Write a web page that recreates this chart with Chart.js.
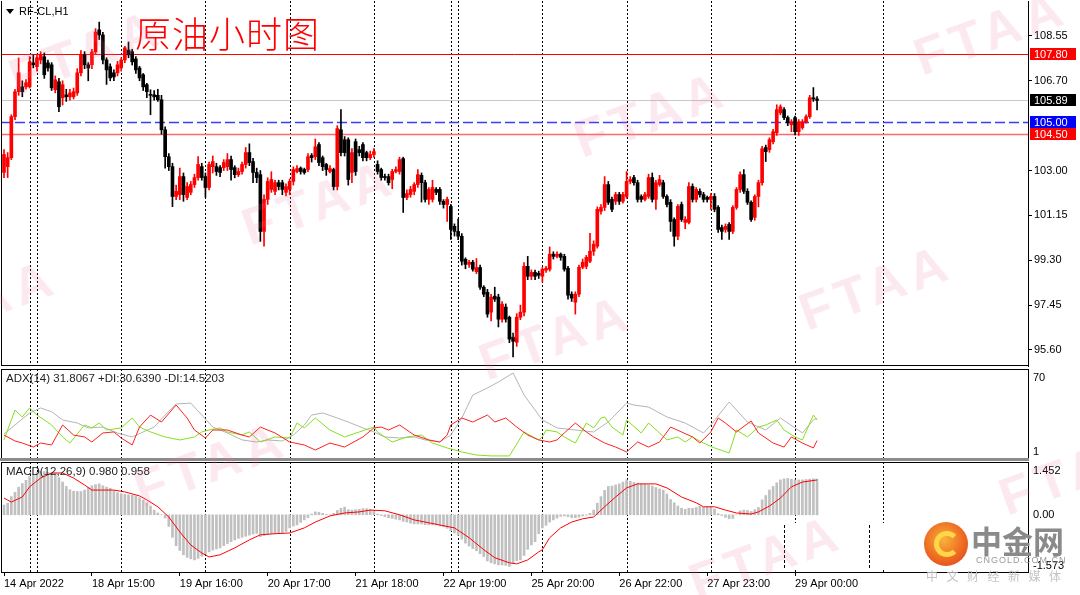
<!DOCTYPE html>
<html><head><meta charset="utf-8">
<script src="https://cdn.jsdelivr.net/npm/chart.js@4.4.1/dist/chart.umd.min.js"></script>
<style>
html,body{margin:0;padding:0;background:#fff;width:1080px;height:595px;overflow:hidden;font-family:"Liberation Sans",Arial,sans-serif;}
canvas{position:absolute;left:0;}
#c1{top:0}#c2{top:367px}#c3{top:460px}
.t{position:absolute;font-size:11px;color:#000;white-space:nowrap;line-height:11px;}
.wm{position:absolute;width:170px;height:56px;line-height:56px;text-align:center;font:bold 52px "Liberation Sans",sans-serif;color:rgba(236,120,160,0.16);transform:rotate(-20deg);letter-spacing:6px;pointer-events:none;}
</style></head><body>
<canvas id="c1" width="1080" height="367"></canvas>
<canvas id="c2" width="1080" height="93"></canvas>
<canvas id="c3" width="1080" height="135"></canvas>
<div style="position:absolute;left:0;top:458px;width:1029px;height:3px;background:#8c8c8c"></div>
<div style="position:absolute;left:760px;top:523px;width:267px;height:47px;background:#fff"></div>
<div style="position:absolute;left:784px;top:525px;height:43px;border-left:1px dashed #000"></div>
<div style="position:absolute;left:869px;top:525px;height:43px;border-left:1px dashed #000"></div>
<div style="position:absolute;left:6px;top:9px;width:0;height:0;border-left:4px solid transparent;border-right:4px solid transparent;border-top:5px solid #000"></div>
<div class="t" style="left:19px;top:6px">RF-CL,H1</div>
<div style="position:absolute;left:135px;top:14px;font:300 36px 'Noto Sans CJK SC',sans-serif;line-height:36px;color:#ff0000;letter-spacing:1px;white-space:nowrap">原油小时图</div>
<div class="t" style="left:6px;top:373px;color:#222;font-size:11.5px">ADX(14) 31.8067 +DI:30.6390 -DI:14.5203</div>
<div class="t" style="left:6px;top:466px;color:#222;font-size:11.5px">MACD(12,26,9) 0.980 0.958</div>
<div style="position:absolute;left:924px;top:522px;width:44px;height:44px;border-radius:50%;background:radial-gradient(circle at 45% 40%,#f7b33a 0%,#ee6a22 55%,#d8391a 100%)"></div>
<div style="position:absolute;left:934px;top:531px;width:16px;height:16px;border-radius:50%;border:5px solid #ffd54a;border-right-color:transparent"></div>
<div style="position:absolute;left:971px;top:523px;font:bold 31px 'Noto Sans CJK SC',sans-serif;line-height:34px;color:#8a8a8a;white-space:nowrap">中金网</div>
<div style="position:absolute;left:976px;top:556px;font:9px 'Liberation Sans',sans-serif;line-height:9px;color:#9a9a9a;letter-spacing:1px;white-space:nowrap">CNGOLD.COM.CN</div>
<div style="position:absolute;left:926px;top:570px;font:12px 'Noto Sans CJK SC',sans-serif;line-height:12px;color:#c4c4c4;letter-spacing:8.5px;white-space:nowrap">中文财经新媒体</div>
<div id="wms"></div>
<script>
// ---------- data ----------
const opens=[
102.92,103.16,103.53,105.22,106.25,106.45,106.45,106.45,107.44,107.28,
107.56,107.69,107.44,107.36,106.33,106.66,106.00,106.12,106.04,106.04,
106.20,107.03,107.77,107.36,107.36,107.89,108.80,108.59,107.56,107.28,
107.03,107.03,107.23,107.56,107.97,107.90,107.60,107.23,106.95,106.54,
106.14,106.12,106.10,105.92,104.68,103.57,103.16,101.93,102.01,102.75,
101.89,102.10,102.42,102.71,103.16,102.75,102.30,103.16,103.16,103.12,
103.12,103.16,103.45,103.12,102.83,102.96,103.25,103.74,103.37,102.92,
102.83,100.49,101.81,102.22,102.14,102.50,102.50,102.10,102.22,102.55,
102.96,103.10,103.04,103.04,103.62,103.57,104.07,103.53,103.25,102.96,
103.04,102.34,104.68,104.27,104.27,102.92,104.19,103.86,104.07,103.74,
103.53,103.66,103.25,103.04,102.75,102.75,102.63,102.96,102.96,103.49,
101.89,102.01,102.14,102.42,102.80,102.50,101.81,101.81,102.22,102.22,
101.73,101.60,101.52,100.70,100.49,100.29,99.34,99.13,99.22,98.83,
99.00,98.19,97.98,97.16,97.82,97.78,96.87,97.37,96.95,96.13,
95.92,96.95,97.16,99.05,98.64,98.80,98.76,98.64,98.89,98.93,
99.55,99.46,99.55,99.46,98.97,97.90,97.57,97.90,99.01,99.05,
99.26,99.67,99.88,101.32,101.48,102.42,101.81,101.73,102.01,101.73,
101.93,102.55,102.71,102.50,101.93,101.81,101.93,102.71,101.81,102.42,
102.50,101.93,101.69,100.98,100.29,101.60,100.86,100.86,102.34,101.81,
102.14,102.01,101.89,101.81,101.93,101.48,100.65,100.57,100.78,100.49,
101.48,102.22,102.83,102.14,101.69,101.07,101.93,102.50,103.95,103.86,
104.19,104.56,105.38,105.51,105.18,104.89,105.18,104.60,104.77,105.01,
105.22,106.00,105.95];
const highs=[
103.86,103.74,105.30,106.35,107.64,106.70,106.75,107.70,107.77,107.80,
107.90,107.85,107.55,107.45,106.90,106.80,106.70,106.35,106.35,106.40,
107.20,107.95,107.90,107.45,108.00,108.85,109.12,108.70,107.65,107.40,
107.15,107.50,107.65,108.12,108.30,108.00,107.70,107.30,107.00,106.60,
106.33,106.30,106.35,106.10,104.80,103.70,103.30,102.40,103.10,102.90,
102.50,102.55,102.85,103.58,103.30,102.90,103.35,103.60,103.30,103.20,
103.45,103.70,103.60,103.20,103.10,103.35,103.95,104.10,103.50,103.10,
103.00,102.00,102.70,102.95,102.60,102.60,102.60,102.45,102.65,103.15,
103.20,103.15,103.10,103.70,103.70,104.30,104.15,103.60,103.30,103.20,
103.10,104.85,105.51,104.40,104.35,103.90,104.30,104.00,104.15,103.80,
103.80,103.90,103.40,103.10,102.85,102.85,103.05,103.15,103.55,103.55,
102.20,102.35,102.50,103.04,102.90,102.60,102.30,102.60,102.30,102.30,
101.80,101.90,101.60,100.80,101.00,100.40,99.40,99.30,99.30,99.37,
99.10,98.25,98.10,97.90,98.19,97.90,97.60,97.50,97.00,96.30,
97.10,97.45,99.20,99.46,98.90,98.90,98.85,99.00,99.05,99.85,
99.65,99.65,99.60,99.55,99.05,98.00,98.00,99.10,99.35,99.50,
100.41,100.10,101.50,101.60,102.75,102.55,101.90,102.10,102.10,102.10,
102.96,102.75,102.80,102.60,102.00,102.10,102.85,102.90,102.60,102.80,
102.60,102.00,101.80,101.05,101.60,101.70,101.10,102.50,102.45,102.30,
102.25,102.10,101.95,102.05,102.05,101.55,100.75,100.80,100.85,101.55,
102.30,102.95,103.04,102.25,101.75,102.00,102.60,104.00,104.05,104.35,
104.70,105.71,105.71,105.60,105.25,105.10,105.25,105.10,105.10,105.30,
106.10,106.42,106.05];
const lows=[
102.71,102.71,103.45,105.10,106.10,106.04,106.35,106.40,107.23,107.10,
107.40,106.80,107.10,106.30,106.20,105.43,105.70,105.85,105.90,105.95,
106.10,106.90,107.20,106.70,107.20,107.80,108.40,107.40,106.55,106.70,
106.70,106.90,107.10,107.45,107.65,107.35,107.00,106.70,106.30,106.00,
105.30,105.90,105.85,104.50,103.10,103.00,101.51,101.80,101.80,101.73,
101.80,102.00,102.30,102.60,102.60,101.90,102.20,102.90,102.80,102.75,
103.00,103.00,102.60,102.70,102.75,102.85,103.10,103.20,102.50,102.50,
100.08,99.88,101.60,102.10,102.00,102.20,102.00,101.95,102.00,102.40,
102.90,102.85,102.85,102.95,103.35,103.45,103.20,103.00,102.80,102.90,
102.20,102.20,103.60,103.60,102.40,102.50,102.80,103.60,103.40,103.40,
103.45,103.55,102.85,102.60,102.60,102.40,102.25,102.90,102.85,101.27,
101.80,101.90,102.00,102.30,101.70,101.70,101.60,101.70,102.00,101.60,
101.45,100.90,100.16,100.30,100.15,99.10,98.95,99.00,98.85,98.75,
98.10,97.80,96.95,96.80,97.60,96.55,96.75,96.75,95.90,95.31,
95.75,96.85,97.00,98.50,98.50,98.50,98.55,98.40,98.80,98.85,
99.35,99.40,99.30,98.85,97.70,97.60,97.08,97.80,98.95,98.95,
99.20,99.50,99.80,101.20,101.35,101.60,101.30,101.60,101.60,101.65,
101.85,102.45,102.40,101.70,101.70,101.75,101.85,101.70,101.40,102.35,
101.85,101.50,100.49,99.88,100.15,100.90,100.60,100.80,101.70,101.70,
101.90,101.70,101.70,101.40,101.30,100.45,100.16,100.45,100.16,100.40,
101.40,102.10,102.05,101.60,100.90,100.95,101.50,102.40,103.37,103.75,
104.10,104.45,105.30,105.10,104.85,104.60,104.47,104.45,104.70,104.95,
105.15,105.85,105.50];
const closes=[
103.66,103.53,105.22,106.25,107.03,106.25,106.62,107.48,107.36,107.65,
107.77,106.95,107.23,106.41,106.74,105.63,106.54,106.04,106.20,106.25,
107.03,107.77,107.36,107.23,107.89,108.71,108.59,107.56,107.15,106.82,
106.86,107.36,107.56,108.06,107.77,107.48,107.15,106.82,106.45,106.25,
106.10,106.04,105.92,104.68,103.57,103.16,101.93,102.14,102.75,102.01,
102.34,102.42,102.71,103.25,102.71,102.30,103.25,103.37,102.96,102.92,
103.33,103.45,103.04,102.83,102.96,103.25,103.74,103.33,102.92,102.71,
100.49,101.81,102.55,102.63,102.50,102.34,102.22,102.34,102.55,103.04,
103.08,102.96,102.92,103.57,103.53,103.98,103.33,103.16,103.04,103.08,
102.34,104.73,103.74,103.74,102.63,103.74,102.96,103.74,103.53,103.53,
103.66,103.78,102.96,102.71,102.71,102.50,102.96,103.04,103.45,101.89,
102.05,102.22,102.42,102.83,102.50,101.81,102.22,102.30,102.10,101.73,
101.60,101.81,100.57,100.49,100.29,99.26,99.13,99.22,98.93,99.00,
98.19,97.90,97.08,97.78,97.70,96.87,97.49,96.87,96.05,95.96,
96.95,97.16,99.05,98.64,98.80,98.64,98.68,98.93,98.97,99.55,
99.46,99.55,99.42,98.93,97.86,97.74,97.90,99.01,99.22,99.42,
99.67,99.96,101.40,101.48,102.42,101.69,101.40,102.01,101.73,102.01,
102.55,102.63,102.50,101.81,101.81,102.01,102.71,101.81,102.50,102.63,
101.93,101.60,100.90,100.29,101.52,100.98,100.98,102.34,101.81,102.22,
102.01,101.81,101.81,101.93,101.40,100.57,100.49,100.70,100.49,101.48,
102.22,102.83,102.14,101.69,100.98,101.93,102.50,103.90,103.78,104.27,
104.60,105.51,105.63,105.18,104.97,105.01,104.60,105.01,105.01,105.22,
106.00,105.95,105.89];
const macdHist=[
0.27,0.32,0.50,0.62,0.76,0.86,0.95,1.05,1.11,1.16,
1.19,1.19,1.17,1.15,1.14,1.02,0.90,0.78,0.69,0.65,
0.64,0.64,0.68,0.75,0.80,0.83,0.85,0.80,0.76,0.73,
0.66,0.61,0.58,0.56,0.55,0.54,0.52,0.47,0.40,0.33,
0.24,0.13,0.05,0.00,-0.09,-0.32,-0.62,-0.85,-0.98,-1.10,
-1.17,-1.21,-1.24,-1.20,-1.14,-1.08,-1.02,-0.97,-0.94,-0.91,
-0.85,-0.79,-0.74,-0.69,-0.65,-0.62,-0.59,-0.56,-0.53,-0.51,
-0.60,-0.57,-0.54,-0.52,-0.51,-0.51,-0.50,-0.46,-0.36,-0.31,
-0.28,-0.21,-0.14,-0.08,0.02,0.08,0.07,0.04,0.01,0.00,
0.04,0.12,0.18,0.21,0.14,0.13,0.14,0.15,0.17,0.17,
0.15,0.10,0.02,-0.02,-0.05,-0.08,-0.10,-0.12,-0.14,-0.18,
-0.20,-0.23,-0.25,-0.25,-0.25,-0.27,-0.28,-0.28,-0.28,-0.31,
-0.33,-0.37,-0.44,-0.50,-0.56,-0.67,-0.78,-0.86,-0.93,-0.99,
-1.07,-1.15,-1.27,-1.32,-1.35,-1.38,-1.38,-1.39,-1.42,-1.34,
-1.26,-1.24,-1.12,-0.95,-0.83,-0.74,-0.52,-0.36,-0.29,-0.20,
-0.14,-0.09,-0.04,-0.03,-0.05,-0.08,-0.08,-0.06,-0.03,-0.01,
0.04,0.13,0.32,0.50,0.67,0.78,0.79,0.82,0.85,0.90,
0.96,0.92,0.89,0.87,0.85,0.84,0.82,0.79,0.75,0.71,
0.68,0.57,0.42,0.33,0.24,0.18,0.15,0.18,0.18,0.20,
0.23,0.21,0.22,0.23,0.16,0.03,-0.02,-0.07,-0.11,-0.10,
0.00,0.11,0.13,0.12,0.09,0.14,0.20,0.41,0.53,0.68,
0.78,0.88,0.96,0.99,1.00,0.98,0.96,0.96,0.96,0.97,
0.98,0.99,0.98];
const sigIdx=[0,2,5,7,10,13,16,19,22,24,27,30,33,37,39,42,45,48,51,54,56,59,63,67,70,74,78,82,85,89,93,97,100,104,108,112,116,119,123,127,131,134,138,140,143,146,147,149,152,155,158,161,164,167,170,173,178,181,185,189,191,194,197,200,204,206,209,212,215,218,222];
const sigVal=[0.46,0.35,0.49,0.77,1.01,1.15,1.15,1.01,0.82,0.68,0.68,0.68,0.63,0.52,0.41,0.22,-0.06,-0.47,-0.83,-1.05,-1.16,-1.10,-0.91,-0.69,-0.55,-0.52,-0.50,-0.36,-0.20,-0.03,0.05,0.08,0.13,0.11,0.00,-0.14,-0.22,-0.28,-0.36,-0.63,-0.96,-1.18,-1.32,-1.35,-1.24,-1.02,-0.96,-0.63,-0.36,-0.20,-0.11,-0.06,0.22,0.49,0.74,0.85,0.85,0.74,0.49,0.33,0.22,0.22,0.13,0.05,0.02,0.08,0.24,0.46,0.77,0.90,0.958];
const adxIdx=[0,7,10,13,16,20,23,27,31,35,38,41,44,47,51,54,57,61,65,69,72,76,79,82,84,87,91,94,98,101,104,108,112,115,119,122,125,128,132,135,139,142,146,147,151,156,161,165,170,172,176,181,186,191,193,198,203,208,212,216,218,221,222];
const adxVal=[19.6,35.9,39.8,36.9,30.5,28.1,24.3,25.0,20.4,17.3,21.2,25.0,34.3,42.9,43.6,34.3,25.0,20.4,15.0,13.4,15.0,14.2,18.8,26.6,34.3,35.9,32.0,28.9,24.3,21.2,17.3,16.5,17.3,15.0,13.4,18.8,32.0,49.8,55.3,59.9,66.9,49.8,34.3,30.5,24.3,22.7,21.2,28.9,43.6,42.1,40.5,32.8,28.1,20.4,26.6,44.4,28.9,22.7,32.0,24.3,20.4,30.5,31.8];
const pdiIdx=[0,3,5,7,9,11,13,16,18,22,24,26,28,32,35,37,40,44,48,52,54,56,59,61,65,67,70,74,78,80,82,85,89,93,97,101,102,106,110,114,117,121,125,129,133,138,142,146,147,148,151,153,156,159,161,163,164,166,169,170,174,176,179,181,184,186,188,191,194,198,200,203,206,208,211,213,216,218,221,222];
const pdiVal=[15.0,38.2,32.8,39.8,34.3,30.5,26.6,17.3,12.6,26.6,24.3,28.1,22.7,24.3,32.0,25.0,21.2,17.3,15.0,17.3,21.2,22.7,24.3,21.2,18.8,21.2,13.4,17.3,16.5,28.1,24.3,32.0,22.7,17.3,21.2,25.0,21.2,13.4,17.3,18.8,12.6,8.8,5.7,3.3,2.6,2.6,21.2,15.0,17.3,22.7,21.2,17.3,12.6,28.1,24.3,32.0,32.8,25.0,18.8,30.5,20.4,28.1,20.4,15.0,17.3,13.4,17.3,12.6,8.8,4.9,22.7,17.3,25.0,26.6,30.5,22.7,17.3,15.0,34.3,30.6];
const mdiIdx=[0,3,5,8,10,13,16,19,22,24,27,30,32,35,37,40,43,47,50,52,55,57,61,65,67,70,74,78,82,85,89,93,98,101,103,105,108,112,116,119,121,122,125,128,132,134,137,140,143,146,149,151,153,156,159,161,164,167,170,173,176,179,182,185,188,190,193,195,197,200,204,206,210,213,215,218,221,222];
const mdiVal=[18.8,14.2,12.6,9.5,12.6,11.1,26.6,18.8,17.3,13.4,20.4,21.2,16.5,11.1,25.0,34.3,28.9,42.1,32.0,22.7,16.5,22.7,22.7,18.8,17.3,25.0,20.4,13.4,11.1,7.2,12.6,9.5,17.3,24.3,25.0,22.7,26.6,18.8,15.0,13.4,18.8,26.6,32.0,28.9,34.3,28.9,32.0,25.0,18.8,15.0,13.4,15.0,20.4,28.1,21.2,17.3,12.6,9.5,5.7,13.4,9.5,13.4,25.0,21.2,17.3,12.6,21.2,32.0,28.1,21.2,29.7,20.4,12.6,9.5,17.3,12.6,8.8,14.5];
const priceTicks=[108.55,106.70,103.00,101.15,99.30,97.45,95.60];
const levelValues=[107.80,105.89,105.00,104.50];
const adxTicks=[70,1];
const macdTicks=[1.452,0.00,-1.573];
const tickIdx=[0,24,48,72,96,120,144,168,192,216];
const tickLabels=['14 Apr 2022','18 Apr 15:00','19 Apr 16:00','20 Apr 17:00','21 Apr 18:00','22 Apr 19:00','25 Apr 20:00','26 Apr 22:00','27 Apr 23:00','29 Apr 00:00'];
const sepIdx=[7,9,32,55,78,101,122,124,147,170,193,216,240];

// ---------- styling / layout ----------
const XMIN=-0.82, XMAX=279.6;
const FONT={family:'"Liberation Sans", Arial, sans-serif', size:11};
Chart.defaults.font=FONT;
const levelStyle=[
 {color:'#ff0000',width:1,dash:[],box:'#ff0000'},
 {color:'#c8c8c8',width:1,dash:[],box:'#000000'},
 {color:'#3b3bff',width:1.5,dash:[10,4],box:'#0000ff'},
 {color:'#ff6a6a',width:1.5,dash:[],box:'#ff0000'}];
const idx=closes.map((_,i)=>i);
const up=i=>closes[i]>=opens[i];
const candleColor=c=>up(c.dataIndex)?'#ff0000':'#000000';
const baseOpts={responsive:false,animation:false,devicePixelRatio:1,events:[],
  plugins:{legend:{display:false},tooltip:{enabled:false}}};
const hiddenX={type:'linear',min:XMIN,max:XMAX,display:false,offset:false,bounds:'data',grid:{offset:false}};

const sepPlugin={id:'sep',beforeDatasetsDraw(chart){
  const {ctx,chartArea:a,scales:{x}}=chart;ctx.save();ctx.strokeStyle='#000';ctx.lineWidth=1;ctx.setLineDash([2,2]);
  sepIdx.forEach(i=>{const px=Math.round(x.getPixelForValue(i))+0.5;if(px<a.left||px>a.right)return;
    ctx.beginPath();ctx.moveTo(px,a.top);ctx.lineTo(px,a.bottom);ctx.stroke();});
  ctx.restore();}};
const framePlugin=(sides)=>({id:'frame',afterDraw(chart){
  const {ctx,chartArea:a}=chart;ctx.save();ctx.strokeStyle='#000';ctx.lineWidth=1;ctx.beginPath();
  if(sides.includes('l')){ctx.moveTo(a.left+0.5,a.top);ctx.lineTo(a.left+0.5,a.bottom);}
  if(sides.includes('r')){ctx.moveTo(a.right+0.5,a.top);ctx.lineTo(a.right+0.5,a.bottom);}
  if(sides.includes('t')){ctx.moveTo(a.left,a.top+0.5);ctx.lineTo(a.right+1,a.top+0.5);}
  if(sides.includes('b')){ctx.moveTo(a.left,a.bottom-0.5);ctx.lineTo(a.right+1,a.bottom-0.5);}
  ctx.stroke();ctx.restore();}});
const levelPlugin={id:'levels',
  beforeDatasetsDraw(chart){const {ctx,chartArea:a,scales:{y}}=chart;ctx.save();
    levelValues.forEach((v,k)=>{const s=levelStyle[k];const py=Math.round(y.getPixelForValue(v))+0.5;
      ctx.strokeStyle=s.color;ctx.lineWidth=s.width;ctx.setLineDash(s.dash);ctx.beginPath();ctx.moveTo(a.left,py);ctx.lineTo(a.right,py);ctx.stroke();});
    ctx.restore();},
  afterDraw(chart){const {ctx,chartArea:a,scales:{y}}=chart;ctx.save();
    ctx.font='11px "Liberation Sans", Arial, sans-serif';ctx.textBaseline='middle';ctx.textAlign='left';
    levelValues.forEach((v,k)=>{const s=levelStyle[k];const py=Math.round(y.getPixelForValue(v));
      ctx.fillStyle=s.box;ctx.fillRect(a.right+2,py-6,46,12);ctx.fillStyle='#fff';ctx.fillText(v.toFixed(2),a.right+6,py+0.5);});
    ctx.restore();}};
const sideLabels=(vals,fmt)=>({id:'side',afterDraw(chart){const {ctx,chartArea:a,scales:{y}}=chart;ctx.save();
  ctx.font='11px "Liberation Sans", Arial, sans-serif';ctx.fillStyle='#000';ctx.textAlign='left';
  vals.forEach((v,k)=>{let py=y.getPixelForValue(v);
    if(k===0){ctx.textBaseline='top';py+=3;}else if(k===vals.length-1){ctx.textBaseline='bottom';py-=1;}else{ctx.textBaseline='middle';}
    ctx.fillText(fmt(v),a.right+5,py);});
  ctx.restore();}});

// ---------- main candles ----------
new Chart(document.getElementById('c1'),{type:'bar',
 data:{datasets:[
  {data:idx.map(i=>({x:i,y:[opens[i],closes[i]]})),backgroundColor:candleColor,barThickness:3,minBarLength:1,grouped:false,borderWidth:0},
  {data:idx.map(i=>({x:i,y:[lows[i],highs[i]]})),backgroundColor:candleColor,barThickness:1,grouped:false,borderWidth:0}]},
 options:{...baseOpts,layout:{padding:{left:1,top:1,right:0,bottom:1}},
  scales:{x:hiddenX,
   y:{position:'right',min:94.94,max:109.99,bounds:'data',
    afterFit(s){s.width=52;s.paddingTop=0;s.paddingBottom=0;},
    afterBuildTicks(s){s.ticks=priceTicks.map(v=>({value:v}));},
    ticks:{color:'#000',padding:2,autoSkip:false,font:FONT,callback:v=>Number(v).toFixed(2)},
    grid:{drawOnChartArea:false,drawTicks:true,tickLength:4,color:'#000'},
    border:{display:true,color:'#000'}}}},
 plugins:[sepPlugin,levelPlugin,framePlugin('lb')]});

// ---------- ADX ----------
const pts=(ix,vs)=>ix.map((x,k)=>({x,y:vs[k]}));
new Chart(document.getElementById('c2'),{type:'line',
 data:{datasets:[
  {data:pts(mdiIdx,mdiVal),borderColor:'#ff2020',borderWidth:1,pointRadius:0,tension:0},
  {data:pts(pdiIdx,pdiVal),borderColor:'#84e01c',borderWidth:1,pointRadius:0,tension:0},
  {data:pts(adxIdx,adxVal),borderColor:'#b4b4b4',borderWidth:1,pointRadius:0,tension:0}]},
 options:{...baseOpts,layout:{padding:{left:1,top:2,right:52,bottom:2}},
  scales:{x:hiddenX,y:{display:false,min:1,max:70}}},
 plugins:[sepPlugin,framePlugin('lrt'),sideLabels(adxTicks,v=>String(v))]});

// ---------- MACD ----------
new Chart(document.getElementById('c3'),{type:'bar',
 data:{datasets:[
  {type:'line',data:pts(sigIdx,sigVal),borderColor:'#ff0000',borderWidth:1,pointRadius:0,tension:0},
  {type:'bar',data:idx.map(i=>({x:i,y:macdHist[i]})),backgroundColor:'#c0c0c0',barThickness:2,grouped:false,borderWidth:0}]},
 options:{...baseOpts,layout:{padding:{left:1,top:2,right:52,bottom:0}},
  scales:{
   x:{type:'linear',min:XMIN,max:XMAX,offset:false,bounds:'data',position:'bottom',
    afterBuildTicks(s){s.ticks=tickIdx.map(v=>({value:v}));},
    afterFit(s){s.height=23;s.paddingLeft=0;s.paddingRight=0;},
    ticks:{align:'start',padding:1,color:'#000',autoSkip:false,maxRotation:0,minRotation:0,font:FONT,callback:(v,i)=>tickLabels[i]},
    grid:{drawOnChartArea:false,drawTicks:true,tickLength:4,color:'#000',offset:false},
    border:{display:true,color:'#000'}},
   y:{display:false,min:-1.573,max:1.452}}},
 plugins:[sepPlugin,framePlugin('lrt'),sideLabels(macdTicks,v=>v===0?'0.00':v.toFixed(3))]});

// ---------- watermarks ----------
const wmCenters=[[85,50],[990,30],[318,200],[650,112],[875,285],[-20,300],[555,335],[210,462],[765,555],[1075,470]];
const wms=document.getElementById('wms');
wmCenters.forEach(([cx,cy])=>{const d=document.createElement('div');d.className='wm';d.textContent='FTAA';
  d.style.left=(cx-85)+'px';d.style.top=(cy-28)+'px';wms.appendChild(d);});
</script>
</body></html>
